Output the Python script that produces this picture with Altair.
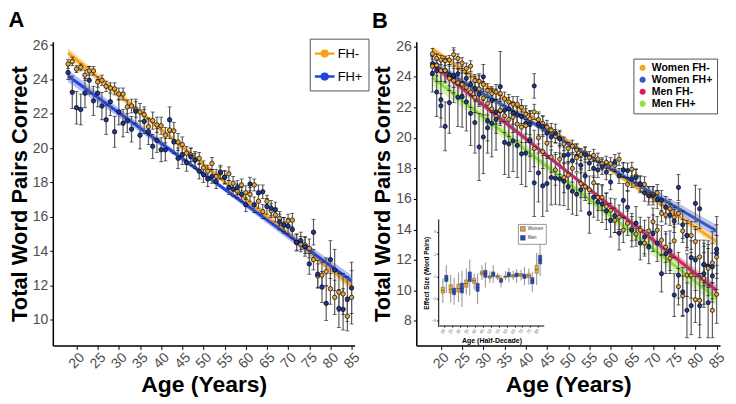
import altair as alt
import pandas as pd

FONT = "Liberation Sans"

AGES = list(range(18, 86))

# ---------------- Panel A ----------------
A_FHNEG = [24.9, 25.05, 24.6, 24.7, 24.25, 24.5, 24.5, 23.85, 23.95, 23.6,
           23.5, 23.45, 23.15, 23.15, 22.4, 22.45, 22.25, 22.1, 21.95, 21.25,
           21.6, 21.35, 21.3, 20.75, 21.05, 21.0, 20.35, 20.2, 19.7, 19.6,
           19.3, 19.4, 18.85, 18.65, 19.1, 18.35, 18.55, 18.3, 18.5, 17.95,
           17.5, 17.85, 17.4, 17.3, 17.85, 16.9, 16.3, 16.9, 16.35, 16.1,
           15.9, 15.55, 15.75, 15.8, 14.5, 14.4, 14.35, 14.15, 13.5, 12.55,
           12.6, 12.8, 11.8, 11.3, 11.6, 11.5, 10.2, 11.3]
A_FHNEG_ERR = [0.25, 0.25, 0.2, 0.2, 0.3, 0.25, 0.25, 0.3, 0.3, 0.3,
               0.3, 0.35, 0.35, 0.35, 0.4, 0.4, 0.45, 0.5, 0.45, 0.5,
               0.5, 0.45, 0.5, 0.45, 0.5, 0.5, 0.5, 0.45, 0.4, 0.4,
               0.4, 0.35, 0.4, 0.35, 0.35, 0.4, 0.35, 0.35, 0.4, 0.4,
               0.4, 0.35, 0.4, 0.4, 0.35, 0.4, 0.4, 0.35, 0.4, 0.4,
               0.4, 0.4, 0.4, 0.4, 0.45, 0.45, 0.5, 0.55, 0.6, 0.7,
               0.75, 0.8, 0.9, 1.0, 1.1, 1.2, 0.85, 1.55]
A_FHPOS = [24.4, 23.25, 22.35, 22.25, 23.2, 23.95, 22.75, 23.2, 22.45, 21.65,
           22.7, 20.95, 22.1, 21.45, 21.6, 21.1, 22.15, 20.75, 21.55, 20.95,
           20.1, 20.45, 19.9, 19.9, 21.65, 20.35, 19.4, 19.6, 19.15, 19.5,
           19.3, 18.65, 18.45, 18.2, 18.35, 18.05, 18.6, 18.3, 17.7, 17.6,
           17.7, 17.3, 16.7, 17.9, 16.7, 17.4, 17.45, 16.6, 16.5, 16.4,
           15.7, 15.5, 15.45, 15.25, 14.5, 14.6, 14.25, 13.25, 15.1, 12.65,
           11.9, 10.95, 13.5, 12.9, 10.65, 10.6, 11.2, 11.85]
A_FHPOS_ERR = [0.4, 0.95, 0.95, 0.9, 0.85, 0.8, 0.85, 0.8, 0.8, 0.85,
               0.8, 0.9, 0.75, 0.8, 0.7, 0.75, 0.7, 0.8, 0.7, 0.75,
               0.7, 0.7, 0.7, 0.65, 0.75, 0.65, 0.6, 0.55, 0.5, 0.5,
               0.5, 0.45, 0.45, 0.45, 0.4, 0.4, 0.4, 0.4, 0.4, 0.4,
               0.4, 0.4, 0.4, 0.4, 0.45, 0.45, 0.4, 0.45, 0.45, 0.45,
               0.45, 0.45, 0.45, 0.5, 0.5, 0.5, 0.55, 0.6, 0.75, 0.8,
               0.9, 1.0, 1.1, 1.2, 1.1, 1.2, 1.3, 1.5]

A_SERIES = ["FH-", "FH+"]
A_LINE_COLORS = ["#F5A41A", "#2144E0"]
A_POINT_COLORS = ["#E6A53A", "#1E3896"]
# fitted line (value at 18, value at 85) and CI half-width (start, middle, end)
A_FIT = {"FH-": (25.55, 11.95, 0.3, 0.12, 0.3),
         "FH+": (24.2, 12.25, 0.35, 0.12, 0.35)}

# ---------------- Panel B ----------------
B_WNEG = [25.5, 25.2, 25.1, 25.05, 25.1, 25.45, 25.2, 24.9, 24.55, 24.7,
          23.75, 23.7, 23.5, 23.1, 22.9, 23.0, 22.9, 22.55, 22.35, 22.2,
          22.2, 22.0, 21.55, 21.25, 21.7, 21.2, 20.95, 20.7, 20.5, 20.1,
          19.95, 19.6, 19.3, 19.45, 19.2, 18.9, 19.0, 18.7, 18.85, 18.6,
          18.3, 18.4, 18.3, 18.2, 18.6, 17.9, 16.95, 17.95, 17.5, 17.0,
          16.95, 16.3, 16.3, 16.4, 15.05, 14.95, 15.35, 14.8, 15.05, 13.9,
          13.6, 13.6, 13.2, 12.2, 11.7, 11.55, 11.8, 12.2]
B_WNEG_ERR = [0.35, 0.3, 0.3, 0.3, 0.3, 0.3, 0.3, 0.35, 0.35, 0.35,
              0.4, 0.4, 0.45, 0.45, 0.45, 0.5, 0.5, 0.45, 0.5, 0.5,
              0.5, 0.5, 0.55, 0.5, 0.5, 0.5, 0.5, 0.45, 0.45, 0.45,
              0.45, 0.45, 0.4, 0.4, 0.4, 0.4, 0.4, 0.4, 0.4, 0.4,
              0.4, 0.4, 0.4, 0.4, 0.4, 0.45, 0.45, 0.45, 0.45, 0.5,
              0.5, 0.5, 0.5, 0.55, 0.55, 0.6, 0.6, 0.65, 0.7, 0.75,
              0.8, 0.9, 1.0, 1.1, 1.2, 1.2, 1.3, 1.4]
B_WPOS = [24.85, 24.4, 22.1, 24.4, 24.1, 24.0, 24.2, 23.55, 23.9, 23.5,
          23.2, 22.85, 24.0, 20.65, 22.45, 21.7, 21.75, 21.8, 21.9, 21.6,
          21.5, 21.4, 20.95, 20.9, 23.4, 20.9, 20.75, 20.3, 20.05, 20.3,
          19.95, 18.85, 18.9, 18.5, 18.8, 18.2, 18.9, 18.35, 18.0, 17.9,
          18.1, 17.75, 17.1, 18.4, 17.5, 17.9, 17.85, 17.3, 17.4, 16.95,
          16.4, 16.2, 16.2, 15.95, 15.9, 15.45, 14.95, 14.55, 16.75, 14.3,
          13.6, 12.15, 15.7, 15.35, 11.7, 11.6, 10.95, 12.7]
B_WPOS_ERR = [0.5, 0.7, 0.8, 0.7, 0.7, 0.7, 0.75, 0.7, 0.7, 0.75,
              0.8, 0.8, 0.8, 0.85, 0.8, 0.8, 0.8, 0.75, 0.75, 0.7,
              0.7, 0.7, 0.7, 0.7, 0.8, 0.7, 0.65, 0.6, 0.6, 0.6,
              0.55, 0.55, 0.5, 0.5, 0.5, 0.5, 0.5, 0.5, 0.5, 0.5,
              0.5, 0.5, 0.5, 0.5, 0.5, 0.5, 0.5, 0.55, 0.55, 0.55,
              0.55, 0.6, 0.6, 0.6, 0.65, 0.7, 0.7, 0.75, 0.85, 0.9,
              1.0, 1.1, 1.2, 1.3, 1.4, 1.4, 1.5, 1.6]
B_MNEG = [24.7, 24.75, 24.4, 24.4, 23.9, 23.75, 23.6, 23.5, 23.3, 23.0,
          22.65, 23.2, 22.6, 22.25, 21.9, 21.4, 21.8, 21.45, 21.2, 21.35,
          20.9, 20.7, 20.8, 19.9, 19.3, 20.0, 19.1, 19.65, 18.75, 17.9,
          18.6, 17.4, 17.55, 18.0, 18.7, 17.0, 16.8, 16.6, 17.05, 16.1,
          16.1, 15.5, 15.25, 14.6, 14.8, 13.95, 14.4, 14.05, 13.7, 13.95,
          13.1, 13.9, 14.5, 13.95, 13.3, 12.85, 12.1, 13.25, 10.25, 9.65,
          11.0, 11.0, 9.4, 9.35, 10.8, 11.45, 8.7, 9.75]
B_MNEG_ERR = [0.6, 0.7, 0.7, 0.8, 0.8, 0.8, 0.9, 0.9, 0.9, 1.0,
              1.0, 1.0, 1.1, 1.0, 1.0, 1.1, 1.0, 1.1, 1.1, 1.0,
              1.1, 1.0, 1.1, 1.1, 1.2, 1.0, 1.1, 1.0, 1.0, 1.0,
              1.0, 1.0, 0.9, 0.9, 0.9, 0.9, 0.9, 0.9, 0.85, 0.85,
              0.85, 0.85, 0.8, 0.8, 0.8, 0.8, 0.8, 0.8, 0.8, 0.85,
              0.85, 0.9, 0.9, 0.9, 0.95, 1.0, 1.0, 1.1, 1.2, 1.3,
              1.4, 1.5, 1.5, 1.6, 1.7, 1.8, 1.8, 1.9]
B_MPOS = [24.2, 23.0, 22.5, 20.75, 22.3, 24.1, 22.65, 22.7, 22.35, 21.6,
          21.0, 19.4, 20.05, 21.1, 20.95, 21.2, 23.35, 19.7, 19.6, 19.8,
          19.5, 18.95, 19.0, 19.8, 17.05, 17.7, 16.85, 17.0, 17.4, 17.35,
          17.3, 17.15, 16.8, 16.5, 16.3, 16.6, 17.5, 15.05, 16.1, 15.8,
          15.65, 15.2, 14.6, 14.9, 13.75, 15.9, 15.45, 13.95, 14.4, 13.1,
          13.5, 12.85, 13.75, 13.1, 11.1, 12.4, 12.6, 9.7, 11.0, 9.9,
          8.7, 9.0, 12.0, 9.0, 11.1, 9.2, 11.55, 12.45]
B_MPOS_ERR = [1.2, 1.6, 1.8, 1.6, 2.0, 1.8, 1.9, 2.0, 1.9, 2.1,
              2.0, 2.2, 2.4, 2.1, 2.2, 2.0, 2.3, 2.1, 2.2, 2.0,
              2.1, 2.0, 2.2, 2.0, 2.2, 1.9, 2.0, 1.8, 1.8, 1.7,
              1.7, 1.6, 1.5, 1.5, 1.4, 1.4, 1.4, 1.3, 1.3, 1.2,
              1.2, 1.2, 1.1, 1.1, 1.1, 1.1, 1.1, 1.1, 1.1, 1.1,
              1.1, 1.1, 1.2, 1.2, 1.2, 1.3, 1.3, 1.4, 1.5, 1.6,
              1.8, 1.9, 2.0, 2.1, 2.2, 2.3, 2.3, 2.4]

B_SERIES = ["Women FH-", "Women FH+", "Men FH-", "Men FH+"]
B_LINE_COLORS = ["#F5A623", "#3857C0", "#E01A66", "#8EE03A"]
B_POINT_COLORS = ["#E8A63A", "#2A44AC", "#C4185A", "#A9D83E"]
B_FIT = {"Women FH-": (25.8, 13.2, 0.22, 0.12, 0.3),
         "Women FH+": (24.85, 13.9, 0.3, 0.15, 0.4),
         "Men FH-": (24.8, 10.0, 0.3, 0.15, 0.35),
         "Men FH+": (23.95, 9.5, 0.5, 0.3, 0.55)}

# ---------------- Inset (effect size by half-decade) ----------------
GROUPS = ["20", "25", "30", "35", "40", "45", "50", "55", "60", "65", "70", "75", "80"]
SEXES = ["Women", "Men"]
SEX_COLORS = ["#E9A833", "#2748C2"]
W_LO = [-4.8, -4.7, -4.6, -3.3, -2.4, -0.65, -1.2, -0.7, -0.7, -0.7, -0.75, -1.5, -1.55]
W_Q1 = [-3.0, -3.0, -2.8, -1.95, -1.25, 0.25, -0.35, -0.3, -0.2, -0.15, 0.0, -0.25, 0.55]
W_MED = [-2.5, -2.3, -2.2, -1.3, -0.8, 0.6, -0.1, -0.05, -0.05, 0.1, 0.25, 0.1, 1.2]
W_Q3 = [-1.95, -1.5, -1.4, -0.65, -0.35, 0.95, 0.1, 0.2, 0.05, 0.3, 0.5, 0.45, 2.0]
W_HI = [-0.4, 0.3, 0.7, 1.4, 0.5, 2.0, 0.9, 0.6, 0.95, 1.0, 1.2, 1.4, 4.25]
M_LO = [-3.0, -5.1, -5.5, -3.5, -5.0, -2.0, -1.2, -2.0, -1.0, -1.2, -1.6, -2.8, 0.0]
M_Q1 = [-0.95, -3.3, -3.0, -0.95, -2.7, -0.2, -0.05, -1.1, -0.1, -0.1, -0.4, -1.35, 2.2]
M_MED = [-0.4, -2.7, -2.2, 0.0, -2.0, 0.5, 0.4, -0.7, 0.3, 0.25, 0.0, -0.8, 2.9]
M_Q3 = [0.2, -2.1, -1.2, 0.8, -1.25, 1.1, 0.8, -0.35, 0.7, 0.6, 0.4, -0.2, 3.8]
M_HI = [2.0, -0.3, 1.0, 3.0, 0.5, 2.5, 2.0, 0.3, 1.5, 1.3, 1.7, 0.8, 6.2]

X_TICKS = [20, 25, 30, 35, 40, 45, 50, 55, 60, 65, 70, 75, 80, 85]
A_YTICKS = [10, 12, 14, 16, 18, 20, 22, 24, 26]
B_YTICKS = [8, 10, 12, 14, 16, 18, 20, 22, 24, 26]
INSET_YTICKS = list(range(-8, 11))

LEGEND_PATH = ("M-1.3,0L-0.38,0M0.38,0L1.3,0"
               "M0.38,0A0.38,0.38,0,1,1,-0.38,0A0.38,0.38,0,1,1,0.38,0Z")


def points_df(series_names, vals, errs):
    rows = []
    for name, v_list, e_list in zip(series_names, vals, errs):
        for a, v, e in zip(AGES, v_list, e_list):
            rows.append({"series": name, "age": a, "value": v, "lo": v - e, "hi": v + e})
    return pd.DataFrame(rows)


def fit_df(fits):
    rows = []
    a0, a1 = AGES[0], AGES[-1]
    am = (a0 + a1) / 2
    for name, (v0, v1, w0, wm, w1) in fits.items():
        vm = (v0 + v1) / 2
        for a, v, w in [(a0, v0, w0), (am, vm, wm), (a1, v1, w1)]:
            rows.append({"series": name, "age": a, "fit": v, "lo": v - w, "hi": v + w})
    return pd.DataFrame(rows)


def x_axis():
    return alt.Axis(values=X_TICKS, labelAngle=-45, labelAlign="center", labelBaseline="middle",
                    labelPadding=11, labelFontSize=14, labelFont=FONT, labelColor="#4d4d4d",
                    labelOverlap=False, tickSize=4, tickColor="black", domainColor="black",
                    domainWidth=1.5, tickWidth=1, grid=False, titleFont=FONT, titleFontSize=23,
                    titleFontWeight="bold", titleColor="black", titlePadding=3)


def y_axis(ticks):
    return alt.Axis(values=ticks, labelFontSize=14, labelFont=FONT, labelColor="#4d4d4d",
                    labelPadding=2, labelOverlap=False, tickSize=3, tickColor="black",
                    domainColor="black", domainWidth=1.5, grid=False, titleFont=FONT,
                    titleFontSize=22, titleFontWeight="bold", titleColor="black", titlePadding=1)


def main_panel(pts, fits, series, line_colors, point_colors, xdom, ydom, yticks, legend, psize):
    xs = alt.Scale(domain=xdom, nice=False, zero=False)
    ys = alt.Scale(domain=ydom, nice=False, zero=False)
    color = alt.Color("series:N", scale=alt.Scale(domain=series, range=line_colors),
                      sort=series, legend=legend)
    fill = alt.Fill("series:N", scale=alt.Scale(domain=series, range=point_colors),
                    sort=series, legend=None)
    X = alt.X("age:Q", scale=xs, axis=x_axis(), title="Age (Years)")

    def Y(field):
        return alt.Y(field, scale=ys, axis=y_axis(yticks), title="Total Word Pairs Correct")

    band = alt.Chart(fits).mark_area(opacity=0.35).encode(
        x=X, y=Y("lo:Q"), y2="hi:Q", color=color)
    line = alt.Chart(fits).mark_line(strokeWidth=3).encode(
        x=X, y=Y("fit:Q"), color=color)
    err = alt.Chart(pts).mark_rule(color="#5e5e5e", strokeWidth=1.2).encode(
        x=X, y=Y("lo:Q"), y2="hi:Q")
    cap_lo = alt.Chart(pts).mark_tick(color="black", orient="horizontal", size=4, thickness=0.8).encode(
        x=X, y=Y("lo:Q"))
    cap_hi = alt.Chart(pts).mark_tick(color="black", orient="horizontal", size=4, thickness=0.8).encode(
        x=X, y=Y("hi:Q"))
    pts_layer = alt.Chart(pts).mark_point(filled=True, size=psize, stroke="black",
                                          strokeWidth=0.7, opacity=1).encode(
        x=X, y=Y("value:Q"), fill=fill)
    return alt.layer(band, line, err, cap_lo, cap_hi, pts_layer)


# ----- Panel A -----
ptsA = points_df(A_SERIES, [A_FHNEG, A_FHPOS], [A_FHNEG_ERR, A_FHPOS_ERR])
fitA = fit_df(A_FIT)
legA = alt.Legend(title=None, orient="none", legendX=258, legendY=-3, strokeColor="#555",
                  fillColor="white", padding=6, labelFont=FONT, labelFontSize=13,
                  labelColor="black", symbolType=LEGEND_PATH, symbolSize=230,
                  symbolStrokeWidth=2.5, symbolOpacity=1, rowPadding=6)
panelA = main_panel(ptsA, fitA, A_SERIES, A_LINE_COLORS, A_POINT_COLORS, [14.4, 85.7],
                    [8.5, 26.2], A_YTICKS, legA, 20).properties(
    width=303, height=305,
    title=alt.Title("A", anchor="start", frame="bounds", fontSize=22, fontWeight="bold",
                    font=FONT, color="black", offset=6))

# ----- Panel B -----
ptsB = points_df(B_SERIES, [B_WNEG, B_WPOS, B_MNEG, B_MPOS],
                 [B_WNEG_ERR, B_WPOS_ERR, B_MNEG_ERR, B_MPOS_ERR])
fitB = fit_df(B_FIT)
legB = alt.Legend(title=None, orient="none", legendX=218, legendY=17, strokeColor="#555",
                  fillColor="white", padding=4, labelFont=FONT, labelFontSize=10.5,
                  labelFontWeight="bold", labelColor="black", symbolType="circle",
                  symbolSize=30, symbolStrokeColor="black", symbolStrokeWidth=0.7,
                  symbolOpacity=1, rowPadding=1)
mainB = main_panel(ptsB, fitB, B_SERIES, B_LINE_COLORS, B_POINT_COLORS, [14.2, 85.8],
                   [6.4, 26.3], B_YTICKS, legB, 18)

rows = []
for g, a, b, c, d, e in zip(GROUPS, W_LO, W_Q1, W_MED, W_Q3, W_HI):
    rows.append({"grp": g, "sex": "Women", "lo": a, "q1": b, "med": c, "q3": d, "hi": e})
for g, a, b, c, d, e in zip(GROUPS, M_LO, M_Q1, M_MED, M_Q3, M_HI):
    rows.append({"grp": g, "sex": "Men", "lo": a, "q1": b, "med": c, "q3": d, "hi": e})
inset_df = pd.DataFrame(rows)

ix = alt.X("grp:N", sort=GROUPS,
           scale=alt.Scale(domain=GROUPS, range=[23, 128], paddingInner=0.12, paddingOuter=0.25),
           axis=alt.Axis(orient="bottom", offset=-20, labelAngle=-60, labelFontSize=4.5,
                         labelFont=FONT, labelColor="#777", tickSize=1.5, labelPadding=2,
                         domainColor="black", domainWidth=1, tickColor="black",
                         titleFont=FONT, titleFontSize=7, titleFontWeight="bold",
                         titleColor="black", titlePadding=2),
           title="Age (Half-Decade)")
ixo = alt.XOffset("sex:N", sort=SEXES, scale=alt.Scale(domain=SEXES, paddingInner=0.0))
iys = alt.Scale(domain=[-9, 10.3], range=[286, 178], nice=False, zero=False)
icolor = alt.Color("sex:N", sort=SEXES, scale=alt.Scale(domain=SEXES, range=SEX_COLORS),
                   legend=alt.Legend(title=None, orient="none", legendX=102, legendY=183,
                                     strokeColor="#999", fillColor="white", padding=2,
                                     labelFont=FONT, labelFontSize=4.5, labelColor="#333",
                                     symbolType="square", symbolSize=22, symbolStrokeColor="#444",
                                     symbolStrokeWidth=0.5, rowPadding=1, labelOffset=2))
whisk = alt.Chart(inset_df).mark_rule(color="#9a9a9a", strokeWidth=1.1).encode(
    x=ix, xOffset=ixo,
    y=alt.Y("lo:Q", scale=iys,
            axis=alt.Axis(orient="left", offset=-22, values=INSET_YTICKS, labelFontSize=4,
                          labelFont=FONT, labelColor="#777", tickSize=1.5, labelPadding=1,
                          labelOverlap=False, domainColor="black", domainWidth=1,
                          tickColor="black", grid=False,
                          titleFont=FONT, titleFontSize=6.5, titleFontWeight="bold",
                          titleColor="black", titlePadding=2),
            title="Effect Size (Word Pairs)"),
    y2="hi:Q")
box = alt.Chart(inset_df).mark_bar(stroke="#444", strokeWidth=0.4).encode(
    x=ix, xOffset=ixo, y=alt.Y("q1:Q", scale=iys), y2="q3:Q", color=icolor)
med = alt.Chart(inset_df).mark_tick(color="#333", orient="horizontal", size=3.5, thickness=0.8).encode(
    x=ix, xOffset=ixo, y=alt.Y("med:Q", scale=iys))
inset = alt.layer(whisk, box, med)

panelB = alt.layer(mainB, inset).resolve_scale(
    x="independent", y="independent", color="independent").properties(
    width=305, height=305,
    title=alt.Title("B", anchor="start", frame="bounds", fontSize=22, fontWeight="bold",
                    font=FONT, color="black", offset=6))

chart = alt.hconcat(panelA, panelB, spacing=9).properties(
    padding={"left": 0, "top": 0, "right": 0, "bottom": 0},
    background="white").configure_view(strokeWidth=0)

chart.save("out.html", embed_options={"renderer": "svg", "actions": False})
